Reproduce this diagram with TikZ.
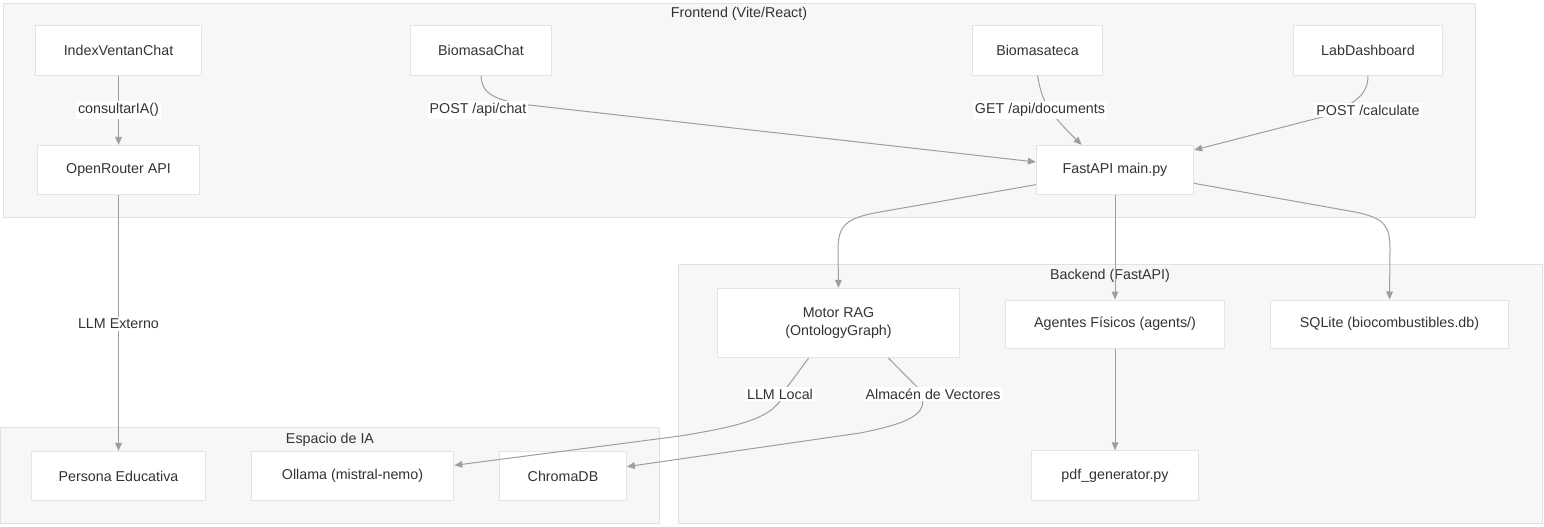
\documentclass[tikz,border=0pt]{standalone}
\usepackage{fontspec}
\setmainfont{Liberation Sans}
\usepackage{xcolor}
\usetikzlibrary{arrows.meta,positioning}
\definecolor{grpfill}{HTML}{F7F7F7}
\definecolor{grpline}{HTML}{E1E1E1}
\definecolor{boxline}{HTML}{E4E4E4}
\definecolor{edgegray}{HTML}{9E9E9E}
\definecolor{txtgray}{HTML}{333333}

\begin{document}
\begin{tikzpicture}[x=0.75pt,y=-0.75pt,>={Triangle[length=6pt,width=5pt]},
  font=\fontsize{10.7}{13.5}\selectfont,text=txtgray,
  box/.style={draw=boxline,fill=white,line width=0.75pt,minimum height=37pt,inner sep=0pt,align=center},
  grp/.style={draw=grpline,fill=grpfill,line width=0.75pt},
  flow/.style={->,draw=edgegray,line width=0.75pt},
  lbl/.style={fill=white,inner sep=1.5pt}]
  \useasboundingbox (0,0) rectangle (1544,526);
  \draw[grp] (3,3) rectangle (1475,217);
  \draw[grp] (678,264) rectangle (1542,523);
  \draw[grp] (0,427) rectangle (659,523);
  \node (tFront) at (739,14) {Frontend (Vite/React)};
  \node (tBack) at (1110,276) {Backend (FastAPI)};
  \node (tIA) at (330,440) {Espacio de IA};

  \node[box,minimum width=125pt] (idx) at (118.5,50.5) {IndexVentanChat};
  \node[box,minimum width=121pt] (ora) at (118.5,170) {OpenRouter API};
  \node[box,minimum width=106pt] (bchat) at (481,50.5) {BiomasaChat};
  \node[box,minimum width=97pt] (bteca) at (1037.5,50.5) {Biomasateca};
  \node[box,minimum width=112pt] (lab) at (1368,50.5) {LabDashboard};
  \node[box,minimum width=118pt] (fast) at (1115,170) {FastAPI main.py};
  \node[box,minimum width=181pt,minimum height=52pt] (rag) at (838.5,323) {Motor RAG\\(OntologyGraph)};
  \node[box,minimum width=164pt,minimum height=36pt] (agt) at (1115,324) {Agentes Físicos (agents/)};
  \node[box,minimum width=179pt,minimum height=36pt] (sql) at (1389.5,324) {SQLite (biocombustibles.db)};
  \node[box,minimum width=125pt] (pdf) at (1115,475.5) {pdf\_generator.py};
  \node[box,minimum width=130pt] (pers) at (118.5,476) {Persona Educativa};
  \node[box,minimum width=152pt] (oll) at (352.5,476) {Ollama (mistral-nemo)};
  \node[box,minimum width=95pt] (chr) at (563,476) {ChromaDB};

  \coordinate (cIdx) at (118.5,110);
  \coordinate (cExt) at (118.5,324);
  \coordinate (cChat) at (478,110);
  \coordinate (cDocs) at (1040,110);
  \coordinate (cCalc) at (1368,110);
  \coordinate (cLoc) at (780,394);
  \coordinate (cVec) at (933,394);

  \draw[flow] (idx) -- (ora);
  \draw[flow] (ora) -- (pers);
  \draw[flow] (bchat.south) .. controls (482,92) and (490,98) .. (520,104) -- ([yshift=6pt]fast.west);
  \draw[flow] (bteca.south) .. controls (1042,100) and (1046,110) .. ([xshift=-25pt]fast.north);
  \draw[flow] (lab.south) .. controls (1368,90) and (1362,100) .. (1330,115) -- ([yshift=15pt]fast.east);
  \draw[flow] ([yshift=-11pt]fast.west) -- (880,212) .. controls (845,218) and (838,226) .. (838,250) -- (rag.north);
  \draw[flow] (fast) -- (agt);
  \draw[flow] ([yshift=-10pt]fast.east) -- (1355,212) .. controls (1385,218) and (1390,226) .. (1390,250) -- (sql.north);
  \draw[flow] (agt) -- (pdf);
  \draw[flow] ([xshift=-22.5pt]rag.south) -- (785,390) .. controls (778,418) and (740,426) .. (680,436) -- ([yshift=8pt]oll.east);
  \draw[flow] ([xshift=37.5pt]rag.south) -- (918,388) .. controls (932,412) and (915,422) .. (860,433) -- ([yshift=7pt]chr.east);

  \node[lbl] (lIdx) at (cIdx) {consultarIA()};
  \node[lbl] (lExt) at (cExt) {LLM Externo};
  \node[lbl] (lChat) at (cChat) {POST /api/chat};
  \node[lbl] (lDocs) at (cDocs) {GET /api/documents};
  \node[lbl] (lCalc) at (cCalc) {POST /calculate};
  \node[lbl] (lLoc) at (cLoc) {LLM Local};
  \node[lbl] (lVec) at (cVec) {Almacén de Vectores};
\end{tikzpicture}
\end{document}
